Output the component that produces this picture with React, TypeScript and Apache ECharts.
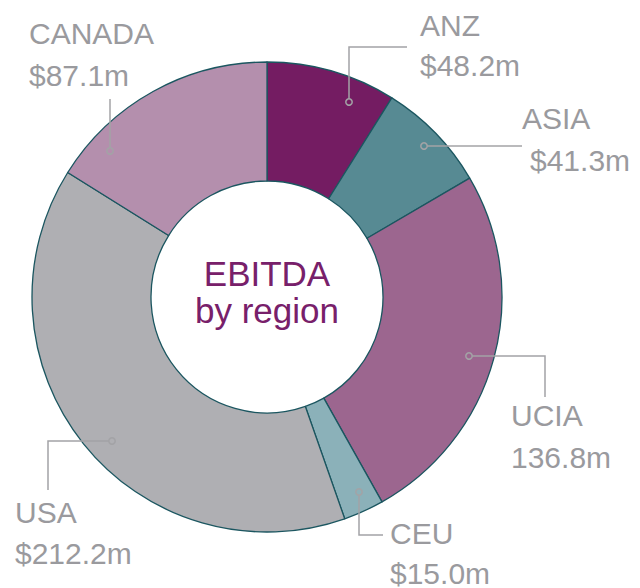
import React, { useEffect, useRef } from "react";
import * as echarts from "echarts";

const regions = ["ANZ", "ASIA", "UCIA", "CEU", "USA", "CANADA"];
const ebitda = [48.2, 41.3, 136.8, 15.0, 212.2, 87.1];
const valueLabels = ["$48.2m", "$41.3m", "136.8m", "$15.0m", "$212.2m", "$87.1m"];
const colors = ["#741c62", "#578a93", "#9c668f", "#8bb1b9", "#afafb3", "#b48fad"];
const centerTitle = ["EBITDA", "by region"];

// annotation layout (leader line polyline, name position, value position)
const annotations = [
  { line: [[349, 102], [349, 47], [407, 47]], name: [420, 35], value: [420, 75] },
  { line: [[424, 146], [522, 146]], name: [522, 128], value: [530, 170] },
  { line: [[469, 356], [545, 356], [545, 397]], name: [511, 425], value: [511, 467] },
  { line: [[359, 492], [359, 535], [383, 535]], name: [390, 543], value: [390, 583] },
  { line: [[112, 441], [48, 441], [48, 490]], name: [15, 522], value: [15, 563] },
  { line: [[110, 151], [110, 99]], name: [29, 43], value: [29, 85] },
];

const CX = 267;
const CY = 297;
const textColor = "#9a9a9e";
const lineColor = "#a3a3a6";
const FONT = "'Liberation Sans', Arial, sans-serif";

export default function App() {
  const ref = useRef<HTMLDivElement>(null);
  useEffect(() => {
    if (!ref.current) return;
    const chart = echarts.init(ref.current, null, { renderer: "svg" });
    const graphics: any[] = [];
    annotations.forEach((a, i) => {
      graphics.push({
        type: "polyline",
        z: 10,
        shape: { points: a.line },
        style: { stroke: lineColor, lineWidth: 1.5, fill: null },
      });
      graphics.push({
        type: "circle",
        z: 11,
        shape: { cx: a.line[0][0], cy: a.line[0][1], r: 3.2 },
        style: { stroke: lineColor, lineWidth: 1.5, fill: colors[i] },
      });
      graphics.push({
        type: "text",
        z: 10,
        x: a.name[0],
        y: a.name[1] - 10,
        style: {
          text: regions[i],
          fill: textColor,
          font: `30px ${FONT}`,
          align: "left",
          verticalAlign: "middle",
        },
      });
      graphics.push({
        type: "text",
        z: 10,
        x: a.value[0],
        y: a.value[1] - 10,
        style: {
          text: valueLabels[i],
          fill: textColor,
          font: `30px ${FONT}`,
          align: "left",
          verticalAlign: "middle",
        },
      });
    });
    graphics.push({
      type: "text",
      z: 10,
      x: CX,
      y: 273,
      style: {
        text: centerTitle[0],
        fill: "#78206a",
        font: `35px ${FONT}`,
        align: "center",
        verticalAlign: "middle",
      },
    });
    graphics.push({
      type: "text",
      z: 10,
      x: CX,
      y: 310,
      style: {
        text: centerTitle[1],
        fill: "#78206a",
        font: `35px ${FONT}`,
        align: "center",
        verticalAlign: "middle",
      },
    });

    chart.setOption({
      animation: false,
      backgroundColor: "#ffffff",
      series: [
        {
          type: "pie",
          center: [CX, CY],
          radius: [116, 235],
          startAngle: 90,
          clockwise: true,
          label: { show: false },
          labelLine: { show: false },
          emphasis: { disabled: true },
          itemStyle: { borderColor: "#1b5660", borderWidth: 1.3 },
          data: regions.map((r, i) => ({
            name: r,
            value: ebitda[i],
            itemStyle: { color: colors[i] },
          })),
        },
      ],
      graphic: graphics,
    });
    return () => chart.dispose();
  }, []);
  return (
    <div
      ref={ref}
      style={{ position: "fixed", left: 0, top: 0, width: 640, height: 588 }}
    />
  );
}
